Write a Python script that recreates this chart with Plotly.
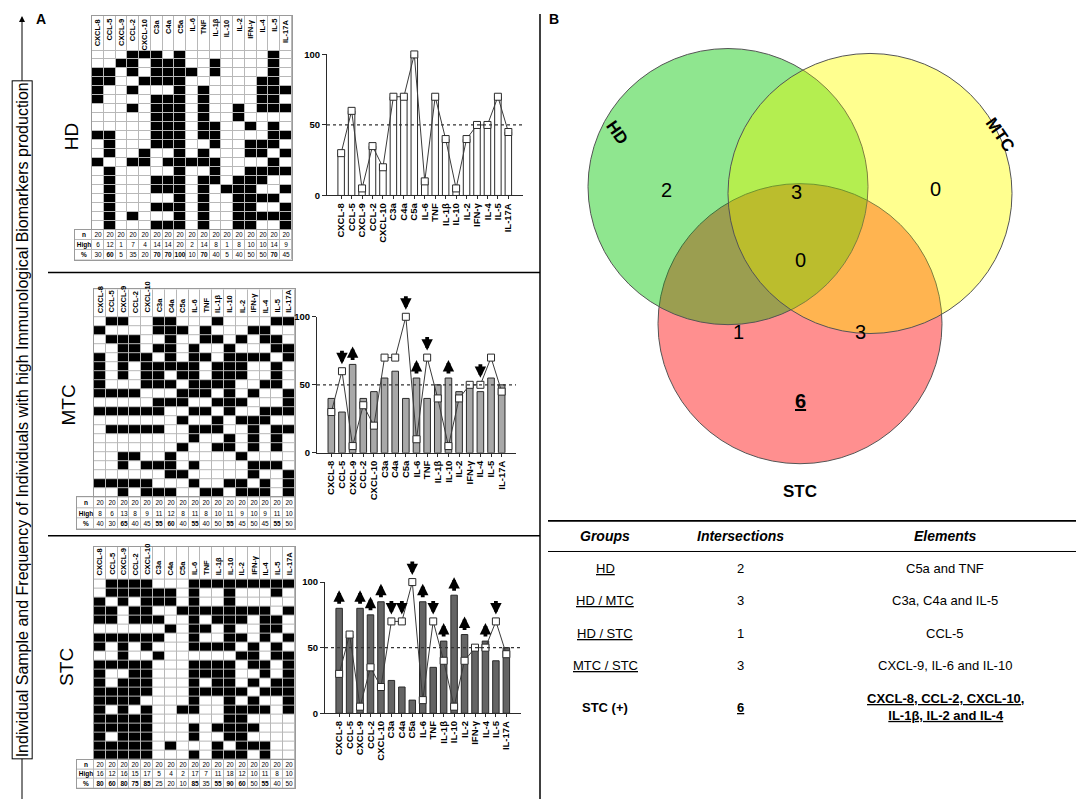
import numpy as np
import plotly.graph_objects as go

W, H = 1084, 799
OFF = 8  # page body margin of the browser
FONT = "Liberation Sans, Arial, sans-serif"

def X(px):
    return (px - OFF) / W

def Y(py):
    return 1 - (py - OFF) / H

# ---------------- data ----------------
markers = ["CXCL-8", "CCL-5", "CXCL-9", "CCL-2", "CXCL-10", "C3a", "C4a", "C5a",
           "IL-6", "TNF", "IL-1β", "IL-10", "IL-2", "IFN-γ", "IL-4", "IL-5", "IL-17A"]
groups = ["HD", "MTC", "STC"]

# high producers per individual (1-based column indices of black cells)
hd_rows = [
    [4, 5, 6, 8, 16], [3, 4, 6, 7, 8, 11, 16], [1, 2, 4, 6, 7, 8, 9, 11, 16],
    [1, 2, 5, 6, 7, 8, 15, 16], [1, 4, 8, 10, 15, 16, 17], [1, 6, 7, 8, 10, 15, 16],
    [4, 6, 7, 8, 10, 13, 15, 16, 17], [6, 7, 8, 10, 13], [6, 7, 8, 10, 11, 14, 16],
    [1, 2, 6, 7, 8, 10, 11, 16, 17], [2, 6, 7, 8, 11, 14, 15, 16], [2, 5, 8, 10, 14, 15, 17],
    [1, 4, 5, 7, 8, 9, 10, 11, 16], [2, 8, 11, 14, 15, 16, 17], [2, 6, 7, 8, 10, 11, 13, 14, 15],
    [2, 6, 7, 8, 10, 12, 13, 14, 17], [2, 8, 10, 13, 14, 15, 16], [2, 6, 7, 8, 10, 13, 14, 17],
    [2, 4, 8, 10, 13, 14, 15, 16, 17], [2, 6, 7, 8, 10, 13, 14, 17],
]
mtc_rows = [
    [2, 3, 6, 7, 11, 16, 17], [1, 6, 7, 8, 10, 14, 15], [2, 3, 4, 7, 10, 11, 13, 15, 16],
    [3, 4, 6, 7, 9, 12, 16, 17], [1, 3, 4, 5, 7, 9, 10, 12, 13, 14, 15, 17],
    [1, 3, 5, 6, 7, 8, 9, 11, 12, 13, 16], [1, 3, 5, 6, 8, 9, 11, 12, 13, 16],
    [1, 5, 6, 7, 9, 10, 11, 12, 15, 16], [1, 2, 3, 4, 8, 9, 10, 12, 14, 17],
    [6, 7, 8, 11, 12, 13, 17], [1, 2, 3, 4, 5, 6, 9, 10, 12, 15, 16, 17],
    [8, 11, 13, 14, 15], [2, 3, 4, 5, 6, 9, 10, 11, 14, 16, 17], [9, 12, 14, 16],
    [8, 11, 12, 14, 16], [3, 4, 7, 13], [3, 5, 6, 7, 9, 14, 15, 16], [7, 8, 14, 17],
    [1, 2, 3, 4, 5, 9, 12, 13, 15, 17], [3, 5, 6, 7, 10, 11, 13, 14, 15, 17],
]
stc_rows = [
    [2, 3, 4, 5, 9, 10, 11, 12, 13, 14, 15, 16, 17], [2, 3, 4, 5, 6, 7, 9, 12, 16],
    [1, 3, 5, 6, 7, 9, 12], [1, 2, 4, 5, 8, 9, 10, 11, 12, 13, 14, 15, 17],
    [1, 2, 4, 5, 6, 9, 11, 12, 13, 15, 16], [7, 9, 10, 12, 15, 16],
    [1, 2, 3, 4, 5, 6, 9, 12, 13, 15, 17], [1, 3, 5, 9, 10, 11, 12, 14, 16],
    [3, 6, 13, 14, 16, 17], [1, 2, 3, 4, 5, 9, 10, 11, 12, 14, 15, 17],
    [1, 4, 5, 9, 10, 11, 12, 15, 17], [1, 3, 4, 5, 9, 11, 12, 14, 16, 17],
    [1, 2, 3, 4, 5, 9, 10, 11, 12, 13, 15, 16, 17], [1, 2, 3, 4, 9, 12, 14, 17],
    [1, 3, 5, 8, 9, 12, 13, 14, 15, 17], [1, 2, 3, 4, 5, 12, 13],
    [1, 2, 3, 4, 5, 9, 11, 12, 13, 14], [1, 3, 4, 5, 9, 12, 13],
    [1, 2, 3, 4, 5, 7, 11, 13, 14, 15], [1, 2, 3, 4, 5, 9, 11, 12, 13, 15],
]

n_values = [20] * 17
hd_high = [6, 12, 1, 7, 4, 14, 14, 20, 2, 14, 8, 1, 8, 10, 10, 14, 9]
mtc_high = [8, 6, 13, 8, 9, 11, 12, 8, 11, 8, 10, 11, 9, 10, 9, 11, 10]
stc_high = [16, 12, 16, 15, 17, 5, 4, 2, 17, 7, 11, 18, 12, 10, 11, 8, 10]
hd_pct = [30, 60, 5, 35, 20, 70, 70, 100, 10, 70, 40, 5, 40, 50, 50, 70, 45]
mtc_pct = [40, 30, 65, 40, 45, 55, 60, 40, 55, 40, 50, 55, 45, 50, 45, 55, 50]
stc_pct = [80, 60, 80, 75, 85, 25, 20, 10, 85, 35, 55, 90, 60, 50, 55, 40, 50]

mtc_arrows = {"CCL-5": "down", "CXCL-9": "up", "C5a": "down", "IL-6": "up",
              "TNF": "down", "IL-10": "up", "IL-4": "down"}
stc_arrows = {"CXCL-8": "up", "CXCL-9": "up", "CCL-2": "up", "CXCL-10": "up",
              "C3a": "down", "C4a": "down", "C5a": "down", "IL-6": "up", "TNF": "down",
              "IL-1β": "up", "IL-10": "up", "IL-2": "up", "IL-4": "up", "IL-5": "down"}

venn_labels = ["HD", "MTC", "STC"]
venn_counts = {"HD": 2, "MTC": 0, "STC": 6, "HD/MTC": 3, "HD/STC": 1, "MTC/STC": 3, "ALL": 0}

tbl_groups = ["<u>HD</u>", "<u>HD / MTC</u>", "<u>HD / STC</u>", "<u>MTC / STC</u>", "<b>STC (+)</b>"]
tbl_inter = [2, 3, 1, 3, 6]
tbl_elements = ["C5a and TNF", "C3a, C4a and IL-5", "CCL-5", "CXCL-9, IL-6 and IL-10",
                "<b><u>CXCL-8, CCL-2, CXCL-10,</u></b><br><b><u>IL-1β, IL-2 and IL-4</u></b>"]

# ---------------- layout geometry (pixels) ----------------
geo = {
    "HD": dict(hdr=10, top=45, bot=227, tbot=257, gx=(92, 292), bx=(327, 522.5),
               by=(49, 192), lab=(71, 133), align="top"),
    "MTC": dict(hdr=287, top=315, bot=498, tbot=530, gx=(94, 295), bx=(317, 516),
                by=(315, 453), lab=(69, 405), align="bottom"),
    "STC": dict(hdr=548, top=581, bot=764, tbot=793, gx=(94, 295), bx=(325, 520.5),
                by=(584, 717), lab=(67, 670), align="bottom"),
}

grid_rows = {"HD": hd_rows, "MTC": mtc_rows, "STC": stc_rows}
high = {"HD": hd_high, "MTC": mtc_high, "STC": stc_high}
pct = {"HD": hd_pct, "MTC": mtc_pct, "STC": stc_pct}
arrows = {"HD": {}, "MTC": mtc_arrows, "STC": stc_arrows}
bar_fill = {"HD": "white", "MTC": "#a8a8a8", "STC": "#646464"}

fig = go.Figure()
layout = dict(width=W, height=H, margin=dict(l=0, r=0, t=0, b=0),
              paper_bgcolor="white", plot_bgcolor="white", showlegend=False,
              font=dict(family=FONT, color="black"))
annotations = []
shapes = []

def axname(k):
    return ("x" if k == 1 else f"x{k}"), ("y" if k == 1 else f"y{k}")

def laykey(k, a):
    return f"{a}axis" if k == 1 else f"{a}axis{k}"

def ptext(px, py, text, size, angle=0, **kw):
    d = dict(x=X(px), y=Y(py), xref="paper", yref="paper", text=text, showarrow=False,
             xanchor="center", yanchor="middle", textangle=angle,
             font=dict(size=size, family=FONT, color="black"))
    d.update(kw)
    annotations.append(d)

ncol = len(markers)
for gi, g in enumerate(groups):
    G = geo[g]
    kg, kt, kb = 1 + 3 * gi, 2 + 3 * gi, 3 + 3 * gi
    # ----- grid heatmap -----
    xa, ya = axname(kg)
    row_h = (G["bot"] - G["top"]) / 20.0
    hh = (G["top"] - G["hdr"]) / row_h
    z = np.zeros((21, ncol))
    for r, cols in enumerate(grid_rows[g]):
        for c in cols:
            z[r + 1, c - 1] = 1
    xedges = list(np.arange(ncol + 1) - 0.5)
    yedges = [-hh] + list(range(0, 21))
    fig.add_trace(go.Heatmap(z=np.ones_like(z), x=xedges, y=yedges, xaxis=xa, yaxis=ya,
                             colorscale=[[0, "#b8b8b8"], [1, "#b8b8b8"]], showscale=False,
                             hoverinfo="skip"))
    fig.add_trace(go.Heatmap(z=z, x=xedges, y=yedges, xaxis=xa, yaxis=ya, zmin=0, zmax=1,
                             colorscale=[[0, "white"], [1, "black"]], showscale=False,
                             xgap=1, ygap=1, hoverinfo="skip"))
    layout[laykey(kg, "x")] = dict(domain=[X(G["gx"][0]), X(G["gx"][1])], range=[-0.5, ncol - 0.5],
                                   showgrid=False, zeroline=False, showticklabels=False, ticks="",
                                   showline=True, mirror=True, linecolor="#9a9a9a", linewidth=1,
                                   anchor=ya, fixedrange=True)
    layout[laykey(kg, "y")] = dict(domain=[Y(G["bot"]), Y(G["hdr"])], range=[20, -hh],
                                   showgrid=False, zeroline=False, showticklabels=False, ticks="",
                                   showline=True, mirror=True, linecolor="#9a9a9a", linewidth=1,
                                   anchor=xa, fixedrange=True)
    for ci, m in enumerate(markers):
        if G["align"] == "top":
            annotations.append(dict(x=ci, y=-hh, xref=xa, yref=ya, text=f"<b>{m}</b>", textangle=-90,
                                    showarrow=False, xanchor="center", yanchor="top", yshift=-1,
                                    font=dict(size=7.5, family=FONT)))
        else:
            annotations.append(dict(x=ci, y=0, xref=xa, yref=ya, text=f"<b>{m}</b>", textangle=-90,
                                    showarrow=False, xanchor="center", yanchor="bottom", yshift=2,
                                    font=dict(size=7.5, family=FONT)))
    # group label
    ptext(G["lab"][0], G["lab"][1], g, 19, angle=-90)
    # ----- summary table -----
    xa, ya = axname(kt)
    cw = (G["gx"][1] - G["gx"][0]) / ncol
    lw = 17.0 / cw
    txt = [["<b>n</b>"] + [str(v) for v in n_values],
           ["<b>High</b>"] + [str(v) for v in high[g]],
           ["<b>%</b>"] + [(f"<b>{v}</b>" if v > 50 else str(v)) for v in pct[g]]]
    tz = np.zeros((3, ncol + 1))
    txedges = [-0.5 - lw] + list(np.arange(ncol + 1) - 0.5)
    fig.add_trace(go.Heatmap(z=np.ones_like(tz), x=txedges, y=[0, 1, 2, 3], xaxis=xa, yaxis=ya,
                             colorscale=[[0, "#b8b8b8"], [1, "#b8b8b8"]], showscale=False,
                             hoverinfo="skip"))
    fig.add_trace(go.Heatmap(z=tz, x=txedges, y=[0, 1, 2, 3], xaxis=xa, yaxis=ya, zmin=0, zmax=1,
                             colorscale=[[0, "white"], [1, "white"]], showscale=False, xgap=1, ygap=1,
                             text=txt, texttemplate="%{text}",
                             textfont=dict(size=6.5, family=FONT, color="black"),
                             hoverinfo="skip"))
    layout[laykey(kt, "x")] = dict(domain=[X(G["gx"][0] - 17), X(G["gx"][1])], range=[-0.5 - lw, ncol - 0.5],
                                   showgrid=False, zeroline=False, showticklabels=False, ticks="",
                                   showline=True, mirror=True, linecolor="#9a9a9a", linewidth=1,
                                   anchor=ya, fixedrange=True)
    layout[laykey(kt, "y")] = dict(domain=[Y(G["tbot"]), Y(G["bot"])], range=[3, 0],
                                   showgrid=False, zeroline=False, showticklabels=False, ticks="",
                                   showline=True, mirror=True, linecolor="#9a9a9a", linewidth=1,
                                   anchor=xa, fixedrange=True)
    # ----- bar chart -----
    xa, ya = axname(kb)
    fig.add_trace(go.Bar(x=markers, y=pct[g], xaxis=xa, yaxis=ya,
                         marker=dict(color=bar_fill[g], line=dict(color="#2a2a2a", width=1)),
                         width=0.62, hoverinfo="skip"))
    fig.add_trace(go.Scatter(x=markers, y=hd_pct, xaxis=xa, yaxis=ya, mode="lines+markers",
                             line=dict(color="#3a3a3a", width=1),
                             marker=dict(symbol="square", size=7, color="white",
                                         line=dict(color="#2a2a2a", width=1)),
                             cliponaxis=False, hoverinfo="skip"))
    layout[laykey(kb, "x")] = dict(domain=[X(G["bx"][0]), X(G["bx"][1])], type="category",
                                   tickmode="array", tickvals=markers, ticktext=markers,
                                   showgrid=False, zeroline=False, showline=True, linecolor="#2a2a2a",
                                   linewidth=1, ticks="outside", ticklen=3, tickcolor="#2a2a2a",
                                   tickangle=-90, tickfont=dict(size=9.5, family=FONT, weight="bold"),
                                   anchor=ya, fixedrange=True)
    layout[laykey(kb, "y")] = dict(domain=[Y(G["by"][1]), Y(G["by"][0])], range=[0, 100],
                                   tickvals=[0, 50, 100], showgrid=False, zeroline=False, showline=True,
                                   linecolor="#2a2a2a", linewidth=1, ticks="outside", ticklen=4,
                                   tickcolor="#2a2a2a", tickfont=dict(size=9.5, family=FONT, weight="bold"),
                                   anchor=xa, fixedrange=True)
    shapes.append(dict(type="line", xref=f"{xa} domain", yref=ya, x0=0, x1=1, y0=50, y1=50,
                       line=dict(color="#333333", width=1.3, dash="dot")))
    for cat, d in arrows[g].items():
        i = markers.index(cat)
        v = max(hd_pct[i], pct[g][i])
        if d == "up":
            annotations.append(dict(x=cat, y=v, xref=xa, yref=ya, text="", showarrow=True,
                                    yshift=18, ax=0, ay=15, arrowhead=2, arrowwidth=3.8,
                                    arrowsize=0.6, arrowcolor="black"))
        else:
            annotations.append(dict(x=cat, y=v, xref=xa, yref=ya, text="", showarrow=True,
                                    yshift=7, ax=0, ay=-15, arrowhead=2, arrowwidth=3.8,
                                    arrowsize=0.6, arrowcolor="black"))

# ---------------- frame / separators ----------------
for (x0, y0, x1, y1, w) in [(48, 270, 540, 270, 1.5), (48, 537, 540, 537, 1.5), (540, 8, 540, 807, 1.5),
                            (548, 522, 1082, 522, 1.8), (548, 553, 1082, 553, 1)]:
    shapes.append(dict(type="line", xref="paper", yref="paper", x0=X(x0), y0=Y(y0), x1=X(x1), y1=Y(y1),
                       line=dict(color="black", width=w)))

# left vertical arrow with text box
annotations.append(dict(x=X(22), y=Y(10), xref="paper", yref="paper", text="", showarrow=True,
                        ax=0, ay=790, arrowhead=2, arrowwidth=1, arrowsize=1.2, arrowcolor="black"))
ptext(22, 420, "Individual Sample and Frequency of Individuals with high Immunological Biomarkers production",
      16, angle=-90, bgcolor="white", bordercolor="black", borderwidth=1, borderpad=1)
ptext(41, 13, "<b>A</b>", 14)
ptext(554, 13, "<b>B</b>", 14)

# ---------------- Venn diagram ----------------
circles = [("STC", 800, 322, 142, "rgba(255,0,0,0.25)"),
           ("HD", 728, 183, 140, "rgba(0,200,0,0.25)"),
           ("MTC", 870, 190, 142, "rgba(255,255,0,0.25)")]
for rep in range(2):
    for name, cx, cy, r, col in circles:
        shapes.append(dict(type="circle", xref="paper", yref="paper", x0=X(cx - r), x1=X(cx + r),
                           y0=Y(cy + r), y1=Y(cy - r), fillcolor=col,
                           line=dict(color="#555555", width=1 if rep == 1 else 0),
                           layer="above"))
venn_pos = {"HD": (666, 186), "MTC": (935, 185), "STC": (800, 400), "HD/MTC": (796, 188),
            "HD/STC": (738, 330), "MTC/STC": (860, 330), "ALL": (800, 257)}
for key, (px, py) in venn_pos.items():
    t = str(venn_counts[key])
    if key == "STC":
        t = f"<b><u>{t}</u></b>"
    ptext(px, py, t, 20)
label_pos = [("HD", 617, 128, 55), ("MTC", 1000, 130, 55), ("STC", 800, 492, 0)]
for name, px, py, ang in label_pos:
    ptext(px, py, f"<b>{name}</b>", 17, angle=ang)

# ---------------- summary table ----------------
col_x = [605, 740, 945]
for cx, hd in zip(col_x, ["Groups", "Intersections", "Elements"]):
    ptext(cx, 537, f"<b><i>{hd}</i></b>", 14)
row_y = [570, 603, 636, 669, 711]
for i in range(len(tbl_groups)):
    it = str(tbl_inter[i]) if i < 4 else f"<b><u>{tbl_inter[i]}</u></b>"
    for cx, t in zip(col_x, [tbl_groups[i], it, tbl_elements[i]]):
        ptext(cx, row_y[i], t, 13)

layout["annotations"] = annotations
layout["shapes"] = shapes
fig.update_layout(**layout)
fig.write_html("out.html")
